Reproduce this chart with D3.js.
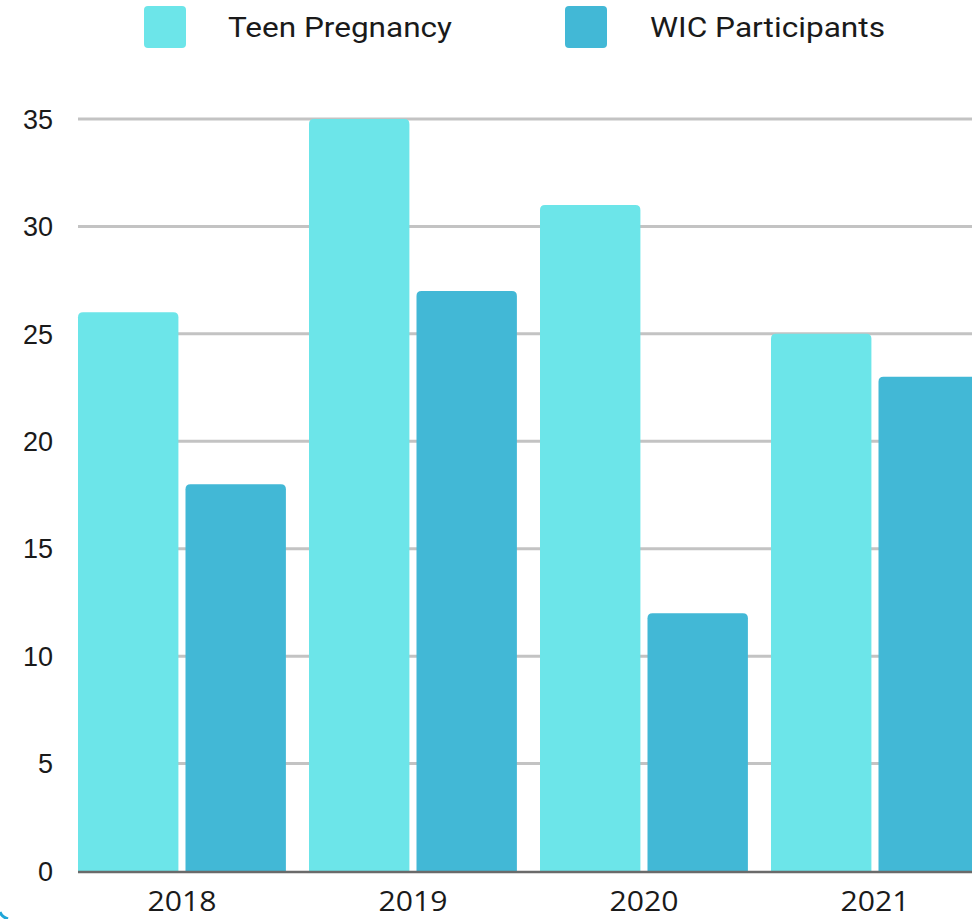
<!DOCTYPE html>
<html>
<head>
<meta charset="utf-8">
<script src="https://cdn.jsdelivr.net/npm/d3@7"></script>
<style>
  html, body { margin: 0; padding: 0; background: #fff; }
  svg { display: block; }
</style>
</head>
<body>
<svg id="chart" width="972" height="919"></svg>
<script>
// Data
const years = ["2018", "2019", "2020", "2021"];
const seriesNames = ["Teen Pregnancy", "WIC Participants"];
const teenPregnancy = [26, 35, 31, 25];
const wicParticipants = [18, 27, 12, 23];
const yTicks = [0, 5, 10, 15, 20, 25, 30, 35];
const colors = ["#6ce5e9", "#42b8d6"];

const svg = d3.select("#chart");
const W = 972, H = 919;
const plotLeft = 78, plotRight = 972, plotTop = 119, plotBottom = 871;

const y = d3.scaleLinear().domain([0, 35]).range([plotBottom, plotTop]);

const x0 = d3.scaleBand()
  .domain(years)
  .range([plotLeft, plotLeft + 231 * 3.9])
  .paddingInner(0.1)
  .paddingOuter(0);

const x1 = d3.scaleBand()
  .domain(seriesNames)
  .range([0, x0.bandwidth()])
  .paddingInner(0.066)
  .paddingOuter(0);

const values = [teenPregnancy, wicParticipants];

// Gridlines
svg.append("g")
  .selectAll("line")
  .data(yTicks.filter(d => d > 0))
  .join("line")
  .attr("x1", plotLeft).attr("x2", plotRight)
  .attr("y1", d => y(d)).attr("y2", d => y(d))
  .attr("stroke", "#c3c3c3")
  .attr("stroke-width", 3);

// Y tick labels
svg.append("g")
  .selectAll("text")
  .data(yTicks)
  .join("text")
  .attr("x", 53)
  .attr("y", d => y(d))
  .attr("dy", "0.36em")
  .attr("text-anchor", "end")
  .attr("font-family", "Liberation Sans, Arial, sans-serif")
  .attr("font-size", 27)
  .attr("fill", "#1a1a1a")
  .text(d => d);

// Rounded-top bar path
function topRoundedBar(x, yTop, w, yBase, r) {
  const h = yBase - yTop;
  r = Math.min(r, h, w / 2);
  return `M${x},${yBase} L${x},${yTop + r} Q${x},${yTop} ${x + r},${yTop} ` +
         `L${x + w - r},${yTop} Q${x + w},${yTop} ${x + w},${yTop + r} ` +
         `L${x + w},${yBase} Z`;
}

const clip = svg.append("defs").append("clipPath").attr("id", "plotClip");
clip.append("rect").attr("x", 0).attr("y", 0).attr("width", W).attr("height", H);

const groups = svg.append("g").attr("clip-path", "url(#plotClip)")
  .selectAll("g")
  .data(years)
  .join("g")
  .attr("transform", d => `translate(${x0(d)},0)`);

groups.selectAll("path")
  .data((d, i) => seriesNames.map((s, j) => ({ s, j, v: values[j][i] })))
  .join("path")
  .attr("d", d => topRoundedBar(x1(d.s), y(d.v), x1.bandwidth(), y(0), 5))
  .attr("fill", d => colors[d.j]);

// Baseline
svg.append("line")
  .attr("x1", plotLeft).attr("x2", plotRight)
  .attr("y1", y(0) + 1).attr("y2", y(0) + 1)
  .attr("stroke", "#6a6a6a")
  .attr("stroke-width", 2.5);

// X labels
svg.append("g")
  .selectAll("text")
  .data(years)
  .join("text")
  .attr("x", d => x0(d) + x0.bandwidth() / 2)
  .attr("y", 911)
  .attr("text-anchor", "middle")
  .attr("font-family", "Open Sans, sans-serif")
  .attr("font-size", 28)
  .attr("fill", "#1a1a1a")
  .attr("textLength", 69)
  .attr("lengthAdjust", "spacingAndGlyphs")
  .text(d => d);

// Legend
const legendItems = [
  { name: seriesNames[0], color: colors[0], sx: 144, tx: 228 },
  { name: seriesNames[1], color: colors[1], sx: 565, tx: 650 }
];
const lg = svg.append("g").selectAll("g").data(legendItems).join("g");
lg.append("rect")
  .attr("x", d => d.sx).attr("y", 6)
  .attr("width", 42).attr("height", 42)
  .attr("rx", 4)
  .attr("fill", d => d.color);
lg.append("text")
  .attr("x", d => d.tx).attr("y", 37)
  .attr("font-family", "Roboto, sans-serif")
  .attr("font-size", 28)
  .attr("fill", "#1a1a1a")
  .attr("textLength", d => d.name === "Teen Pregnancy" ? 224 : 235)
  .attr("lengthAdjust", "spacingAndGlyphs")
  .text(d => d.name);

// Frame corner
svg.append("path")
  .attr("d", "M0,912 Q2,917 8,919")
  .attr("fill", "none")
  .attr("stroke", "#1fa6d8")
  .attr("stroke-width", 3);
</script>
</body>
</html>
